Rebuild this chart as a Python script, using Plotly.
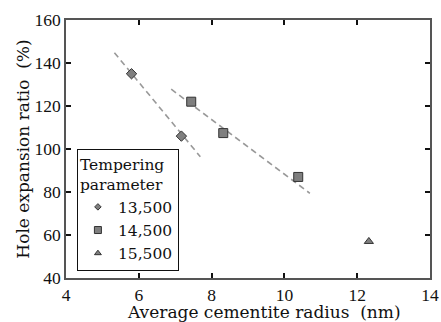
import plotly.graph_objects as go

# Data
radius_13500 = [5.80, 7.17]
hole_13500 = [135, 106]
radius_14500 = [7.44, 8.32, 10.38]
hole_14500 = [122, 107.4, 87]
radius_15500 = [12.32]
hole_15500 = [57]

fit1_x = [5.33, 7.69]
fit1_y = [144.8, 96.4]
fit2_x = [6.89, 10.70]
fit2_y = [127.8, 79.4]

series_names = ["13,500", "14,500", "15,500"]
x_ticks = [4, 6, 8, 10, 12, 14]
y_ticks = [40, 60, 80, 100, 120, 140, 160]

x_title = "Average cementite radius  (nm)"
y_title = "Hole expansion ratio  (%)"

TICKFONT = dict(family="Liberation Serif, serif", size=17.5, color="#111")
TITLEFONT = dict(family="DejaVu Serif, serif", size=17, color="#111")
XTITLEFONT = dict(family="DejaVu Serif, serif", size=17, color="#111")
LEGFONT = dict(family="DejaVu Serif, serif", size=15.5, color="#111")
FILL = "#7f7f7f"
EDGE = "#333333"

fig = go.Figure()

# dashed fit lines
for fx, fy in [(fit1_x, fit1_y), (fit2_x, fit2_y)]:
    fig.add_trace(go.Scatter(x=fx, y=fy, mode="lines", showlegend=False,
                             line=dict(color="#999999", width=1.6, dash="6px,4px")))

symbols = ["diamond", "square", "triangle-up"]
sizes = [8, 9, 8]
leg_sizes = [5, 7, 6]
datasets = [(radius_13500, hole_13500), (radius_14500, hole_14500), (radius_15500, hole_15500)]
for (xs, ys), sym, sz in zip(datasets, symbols, sizes):
    fig.add_trace(go.Scatter(x=xs, y=ys, mode="markers", showlegend=False,
                             marker=dict(symbol=sym, size=sz, color=FILL,
                                         line=dict(color=EDGE, width=1))))

# legend entries (smaller markers)
for name, sym, sz in zip(series_names, symbols, leg_sizes):
    fig.add_trace(go.Scatter(x=[None], y=[None], mode="markers", name=name,
                             marker=dict(symbol=sym, size=sz, color=FILL,
                                         line=dict(color=EDGE, width=1))))

axis_common = dict(
    showline=True, linecolor="#555555", linewidth=1.5, mirror="ticks",
    ticks="inside", ticklen=5, tickwidth=2, tickcolor="#111",
    showgrid=False, zeroline=False, tickfont=TICKFONT, automargin=False,
)

fig.update_xaxes(range=[4, 14], tickvals=x_ticks, **axis_common)
fig.update_yaxes(range=[40, 160], tickvals=y_ticks,
                 title=dict(text=y_title, font=TITLEFONT, standoff=1),
                 **axis_common)

fig.add_annotation(text=x_title, xref="paper", yref="paper", x=0.543, y=-0.085,
                   xanchor="center", yanchor="top", showarrow=False, font=XTITLEFONT)

fig.update_layout(
    width=441, height=322,
    margin=dict(l=66, r=11, t=20, b=44),
    plot_bgcolor="white", paper_bgcolor="white",
    legend=dict(
        x=0.03, y=0.5, xanchor="left", yanchor="top",
        bordercolor="#111", borderwidth=1, bgcolor="white",
        font=LEGFONT,
        title=dict(text="Tempering<br>parameter", side="top", font=LEGFONT),
        itemwidth=30, tracegroupgap=0,
    ),
)

fig.write_html("out.html", config={"displayModeBar": False},
               post_script="document.body.style.margin='0';document.body.style.overflow='hidden';")
